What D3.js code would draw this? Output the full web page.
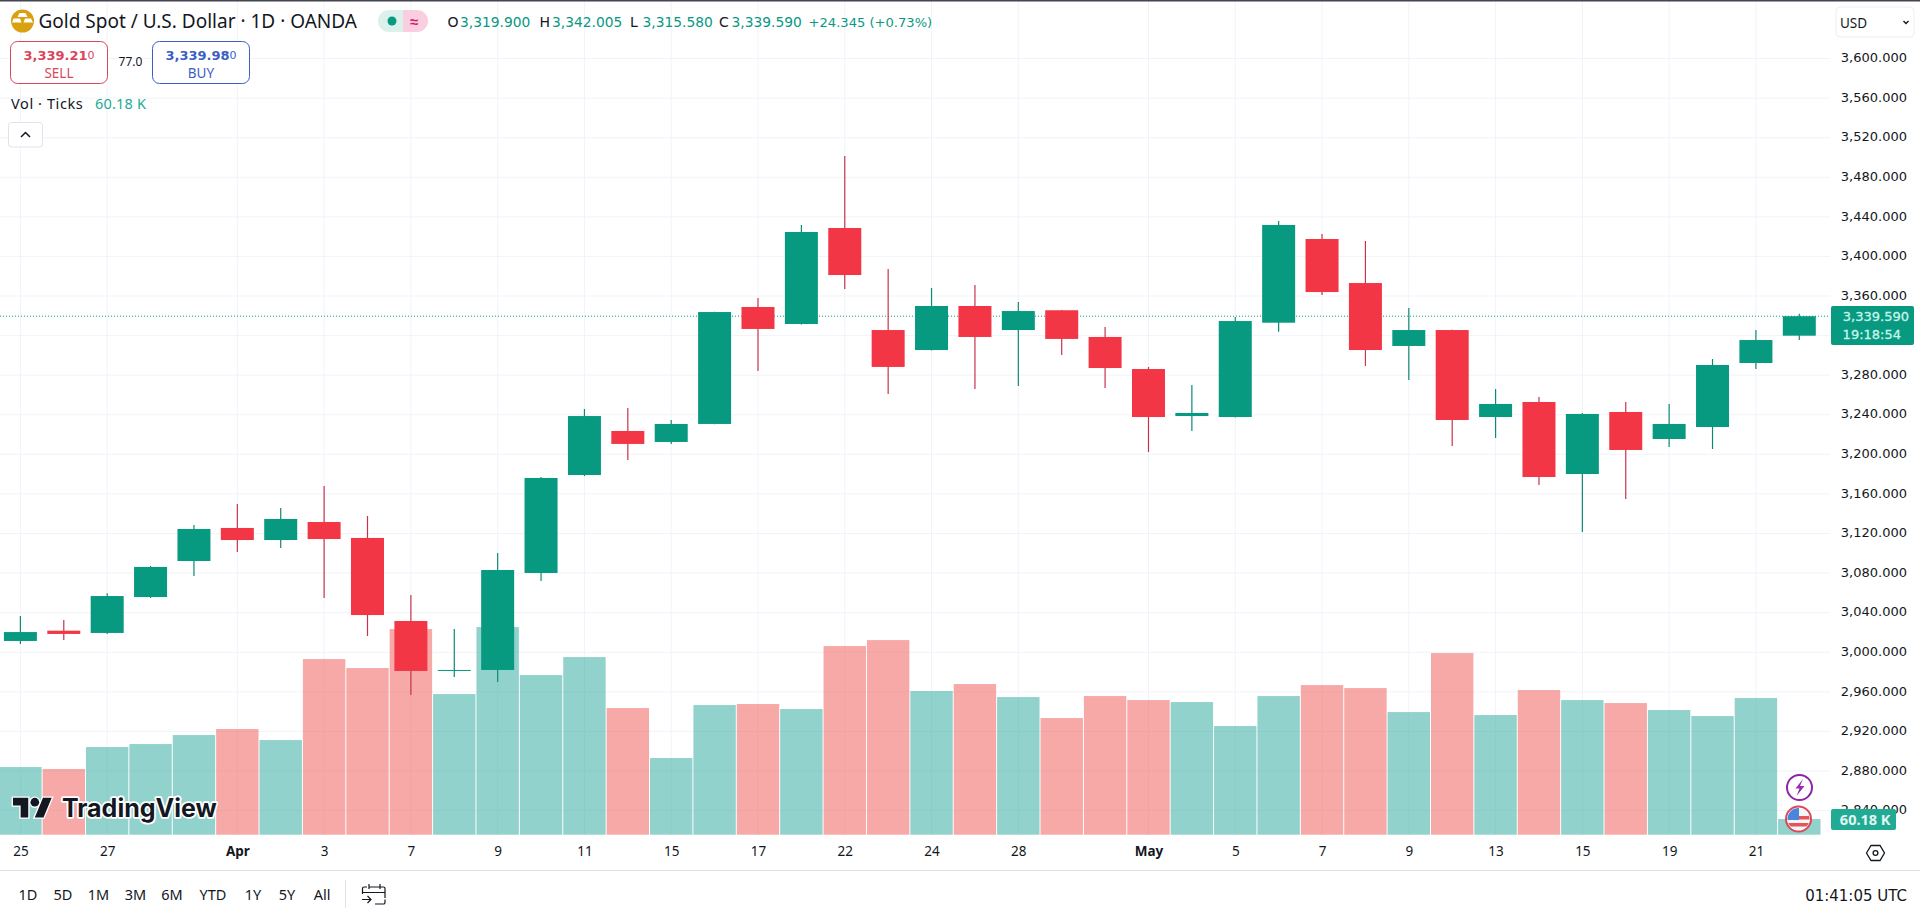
<!DOCTYPE html>
<html lang="en"><head>
<meta charset="utf-8">
<title>Gold Spot / U.S. Dollar</title>
<script src="https://cdn.jsdelivr.net/npm/d3@7"></script>
<style>
html, body { margin: 0; padding: 0; background: #fff; overflow: hidden; }
svg { display: block; }
text { font-family: "Noto Sans", sans-serif; fill: #131722; }
.num { font-family: "DejaVu Sans", sans-serif; }
</style>
</head>
<body>
<script type="text/javascript">

var width = 1920;
var height = 910;

// daily candles, Mar 25 to May 22
var opens = [3011.4,3021.8,3019.5,3055.8,3092.2,3125.6,3113.4,3131.6,3115.5,3031.6,2981.1,2982.1,3080.1,3179.1,3223.6,3212.5,3230.7,3348.9,3331.7,3428.7,3325.6,3305.4,3349.9,3325.6,3345.6,3318.6,3286.2,3238.7,3237.7,3333,3417.6,3373.1,3309.5,3325.6,3237.7,3252.9,3180.1,3242.8,3215.5,3227.6,3292.3,3319.9];
var highs = [3036.6,3032.6,3059.6,3087.2,3128.6,3149.8,3145.8,3168,3137.7,3057.9,3023.5,3100.3,3177.1,3245.8,3246.8,3234.7,3344.2,3358,3431.8,3501.5,3387.3,3368.1,3371.1,3354,3345.9,3328.7,3288.3,3270.1,3338.8,3435.8,3422.7,3415.6,3347.9,3325.9,3266,3258,3241.8,3252.9,3250.9,3296.3,3325.6,3342.005];
var lows = [3008.4,3012.4,3018.5,3054.8,3077.1,3101.3,3105.4,3054.8,3016.4,2956.8,2975,2970,3072,3178,3194.3,3210.5,3230.5,3284.2,3331.2,3367.1,3261,3305,3266,3269.1,3300.4,3267,3202.3,3223.6,3237.2,3324,3361,3289.3,3275.1,3208.4,3216.5,3169,3121.5,3154.9,3207.4,3205.4,3286.2,3315.58];
var closes = [3020.4,3018.5,3056.8,3086.2,3124.6,3113.4,3134.7,3114.4,3037.6,2981.1,2982.1,3083.1,3176.1,3238.7,3210.5,3230.7,3343.8,3326.7,3424.7,3381.2,3288.3,3349.9,3318.6,3344.8,3316.6,3287.2,3237.7,3241.8,3334.7,3431.8,3364,3305.4,3325.6,3234.7,3250.9,3177.1,3240.8,3204.4,3230.7,3290.3,3315.5,3339.59];
// ticks volume, thousands
var volumes = [259.8,252.2,336.6,348.2,382.7,405.8,363.5,674.6,640,789.8,540.2,797.4,613.1,682.2,486.4,294.4,497.9,501.8,482.6,724.5,747.5,551.7,578.6,528.6,448,532.5,517.1,509.4,417.3,532.5,574.7,563.2,471,697.6,459.5,555.5,517.1,505.6,478.7,455.7,524.8,60.18];

var priceTicks = [3600,3560,3520,3480,3440,3400,3360,3320,3280,3240,3200,3160,3120,3080,3040,3000,2960,2920,2880,2840];
var dateTickIndex = [0,2,5,7,9,11,13,15,17,19,21,23,26,28,30,32,34,36,38,40];
var dateTickLabels = ["25","27","Apr","3","7","9","11","15","17","22","24","28","May","5","7","9","13","15","19","21"];
var ranges = ["1D","5D","1M","3M","6M","YTD","1Y","5Y","All"];
var rangeX = [28,63,98.5,135.5,172,213,253,287,322];
var ohlcNames = ["O","H","L","C"];
var ohlcValues = ["3,319.900","3,342.005","3,315.580","3,339.590"];
var ohlcX = [447.5,539.5,630,719];

var lastClose = 3339.59;

var UP = "#089981", DOWN = "#f23645";

var svg = d3.select("body").append("svg")
            .attr("width", width)
            .attr("height", height);

var x = d3.scaleLinear().domain([0, 41]).range([20.4, 1799.3]);
var y = d3.scaleLinear().domain([3600, 2880]).range([58.5, 771]);
var vol = d3.scaleLinear().domain([0, 800]).range([834.7, 626.4]);

var paneRight = 1830, paneBottom = 835;

function label(parent, txt, px, py, size, color, anchor, weight, cls){
    return parent.append("text")
        .attr("class", cls || null)
        .attr("x", px).attr("y", py)
        .attr("font-size", size)
        .attr("text-anchor", anchor || "start")
        .attr("font-weight", weight || null)
        .style("fill", color || "#131722")
        .text(txt);
}

// grid
svg.append("g").selectAll("line").data(priceTicks).enter().append("line")
    .attr("x1", 0).attr("x2", paneRight)
    .attr("y1", function(d){ return y(d); }).attr("y2", function(d){ return y(d); })
    .attr("stroke", "#f0f3fa").attr("stroke-width", 1);
svg.append("g").selectAll("line").data(dateTickIndex).enter().append("line")
    .attr("y1", 0).attr("y2", paneBottom)
    .attr("x1", function(d){ return x(d); }).attr("x2", function(d){ return x(d); })
    .attr("stroke", "#f0f3fa").attr("stroke-width", 1);

// volume
svg.append("g").selectAll("rect").data(volumes).enter().append("rect")
    .attr("x", function(d, i){ return x(i) - 21.2; })
    .attr("width", 42.4)
    .attr("y", function(d){ return vol(d); })
    .attr("height", function(d){ return vol(0) - vol(d); })
    .attr("fill", function(d, i){ return closes[i] >= opens[i] ? "#26a69a" : "#ef5350"; })
    .attr("fill-opacity", 0.5);

// last price line
svg.append("line")
    .attr("x1", 0).attr("x2", paneRight)
    .attr("y1", y(lastClose)).attr("y2", y(lastClose))
    .attr("stroke", UP).attr("stroke-width", 1).attr("stroke-dasharray", "1 2");

// candles
var candle = svg.append("g").selectAll("g").data(closes).enter().append("g");
candle.append("line")
    .attr("x1", function(d, i){ return x(i); }).attr("x2", function(d, i){ return x(i); })
    .attr("y1", function(d, i){ return y(highs[i]); })
    .attr("y2", function(d, i){ return y(lows[i]); })
    .attr("stroke", function(d, i){ return closes[i] >= opens[i] ? "#0b8a76" : "#c9334a"; })
    .attr("stroke-width", 1.2);
candle.append("rect")
    .attr("x", function(d, i){ return x(i) - 16.5; })
    .attr("width", 33)
    .attr("y", function(d, i){ return y(Math.max(opens[i], closes[i])); })
    .attr("height", function(d, i){ return Math.max(1, Math.abs(y(opens[i]) - y(closes[i]))); })
    .attr("fill", function(d, i){ return closes[i] >= opens[i] ? UP : DOWN; });

// axes, the 3,320 label sits under the price tag
var yAxis = d3.axisRight(y)
    .tickValues(priceTicks.filter(function(d){ return d != 3320; }))
    .tickSize(0).tickFormat(d3.format(",.3f"));
var yG = svg.append("g").attr("transform", "translate(" + paneRight + ",-1)").call(yAxis);
yG.select(".domain").remove();
yG.selectAll("text").attr("x", 77).attr("text-anchor", "end")
    .attr("class", "num").attr("font-size", 13).style("fill", "#131722");

var xAxis = d3.axisBottom(x).tickValues(dateTickIndex).tickSize(0)
    .tickFormat(function(d){ return dateTickLabels[dateTickIndex.indexOf(d)]; });
var xG = svg.append("g").attr("transform", "translate(0," + paneBottom + ")").call(xAxis);
xG.select(".domain").remove();
xG.selectAll("text").attr("y", 11).attr("font-size", 13.5)
    .attr("font-weight", function(d){ return (d == 5 || d == 26) ? 700 : 400; })
    .style("fill", "#131722");

// price tag
svg.append("rect").attr("x", 1831).attr("y", 306).attr("width", 83).attr("height", 39).attr("rx", 2).attr("fill", UP);
label(svg, "3,339.590", 1909, 321, 13, "#c5f5ea", "end", 400, "num").attr("stroke", "#c5f5ea").attr("stroke-width", 0.3);
label(svg, "19:18:54", 1901, 339, 13, "#c5f5ea", "end", 400, "num").attr("stroke", "#c5f5ea").attr("stroke-width", 0.3);

// volume tag
svg.append("rect").attr("x", 1831).attr("y", 809).attr("width", 65).attr("height", 21).attr("rx", 2).attr("fill", "#22ab94");
label(svg, "60.18 K", 1890.5, 824.5, 14.5, "#e3f7f2", "end", 700);

// header
svg.append("rect").attr("width", width).attr("height", 1.5).attr("fill", "#434651");
svg.append("circle").attr("cx", 22.5).attr("cy", 21).attr("r", 11.5).attr("fill", "#d9a10f");
svg.append("path").attr("d", "M19.5 13h6l2 4h-10zM13.5 18.5h6.5l1.5 4H12zM25 18.5h6l2 4h-9.5z").attr("fill", "#fff");
label(svg, "Gold Spot / U.S. Dollar · 1D · OANDA", 38.5, 28, 19);

svg.append("path").attr("d", "M403 10h-14a11 11 0 0 0 0 22h14z").attr("fill", "#dcf1ec");
svg.append("path").attr("d", "M403 10h14a11 11 0 0 1 0 22h-14z").attr("fill", "#f9cfe0");
svg.append("circle").attr("cx", 392).attr("cy", 21).attr("r", 4.5).attr("fill", UP);
label(svg, "≈", 414, 26.5, 15, "#d81b70", "middle", 700);

ohlcNames.forEach(function(n, i){
    label(svg, n, ohlcX[i], 27, 14, "#131722", "start", 400, "num");
    label(svg, ohlcValues[i], ohlcX[i] + 12.5, 27, 13.8, UP, "start", 400, "num");
});
label(svg, "+24.345 (+0.73%)", 808.5, 27, 13.1, UP, "start", 400, "num");

// sell and buy
function tradeBox(bx, color, whole, last, name){
    svg.append("rect").attr("x", bx).attr("y", 41.5).attr("width", 97).attr("height", 42).attr("rx", 7)
        .attr("fill", "#fff").attr("stroke", color).attr("stroke-width", 1);
    var t = label(svg, whole, bx + 48.5, 60, 13, color, "middle", 700, "num");
    t.append("tspan").attr("font-size", 11).attr("font-weight", 400).attr("dy", -1).text(last);
    label(svg, name, bx + 48.5, 77.5, 13.5, color, "middle");
}
tradeBox(10.5, "#d9475a", "3,339.21", "0", "SELL");
tradeBox(152.5, "#3b5fc4", "3,339.98", "0", "BUY");
label(svg, "77.0", 130.5, 65.5, 12, "#131722", "middle");

label(svg, "Vol · Ticks", 11, 109, 14.5).style("letter-spacing", "0.6px");
label(svg, "60.18 K", 95, 109, 14.5, "#22ab94").style("letter-spacing", "0.2px");

svg.append("rect").attr("x", 8.5).attr("y", 122.5).attr("width", 34).attr("height", 24.5).attr("rx", 3)
    .attr("fill", "#fff").attr("stroke", "#e0e3eb");
svg.append("path").attr("d", "M21 137l4.5-4.5L30 137").attr("fill", "none").attr("stroke", "#131722").attr("stroke-width", 1.5);

// currency
svg.append("rect").attr("x", 1836).attr("y", 7).attr("width", 78).attr("height", 30).attr("rx", 4)
    .attr("fill", "#fff").attr("stroke", "#eceef2");
label(svg, "USD", 1840, 27.5, 13.5);
svg.append("path").attr("d", "M1903.5 21l2.5 2.5 2.5-2.5").attr("fill", "none").attr("stroke", "#131722").attr("stroke-width", 1.4);

// watermark
var logo = svg.append("g").attr("transform", "translate(13,793.5) scale(1.09)");
logo.append("path").attr("d", "M14 22H7V11H0V4h14v18zM28 22h-8l7.5-18h8L28 22z").attr("fill", "#131722")
    .attr("stroke", "#fff").attr("stroke-width", 2.5).attr("paint-order", "stroke");
logo.append("circle").attr("cx", 20).attr("cy", 8).attr("r", 4).attr("fill", "#131722")
    .attr("stroke", "#fff").attr("stroke-width", 2.5).attr("paint-order", "stroke");
label(svg, "TradingView", 62, 817, 25, "#131722", "start", 700)
    .style("font-family", "Inter")
    .attr("stroke", "#fff").attr("stroke-width", 3.5).attr("paint-order", "stroke")
    .attr("stroke-linejoin", "round");

// event markers
svg.append("circle").attr("cx", 1799.5).attr("cy", 787.5).attr("r", 12.5).attr("fill", "#fff").attr("stroke", "#8e24aa").attr("stroke-width", 2);
svg.append("path").attr("d", "M1803 779l-7.5 9.5h4l-3 7.5 8-10h-4.5z").attr("fill", "#9c27b0");
var defs = svg.append("defs");
defs.append("clipPath").attr("id", "flag").append("circle").attr("cx", 1798.5).attr("cy", 819).attr("r", 11);
svg.append("circle").attr("cx", 1798.5).attr("cy", 819).attr("r", 12.5).attr("fill", "#fff").attr("stroke", "#d9475a").attr("stroke-width", 2);
var flag = svg.append("g").attr("clip-path", "url(#flag)");
flag.append("rect").attr("x", 1787).attr("y", 808).attr("width", 23).attr("height", 22).attr("fill", "#f5f5f5");
flag.append("rect").attr("x", 1798).attr("y", 816).attr("width", 12).attr("height", 3.5).attr("fill", "#e2555a");
flag.append("rect").attr("x", 1787).attr("y", 823).attr("width", 23).attr("height", 3.5).attr("fill", "#e2555a");
flag.append("rect").attr("x", 1787).attr("y", 808).attr("width", 12).attr("height", 12).attr("fill", "#4a86dd");

// settings
svg.append("path").attr("d", "M1866.5 853l4.5-7.5h9l4.5 7.5-4.5 7.5h-9z").attr("fill", "none").attr("stroke", "#131722").attr("stroke-width", 1.3);
svg.append("circle").attr("cx", 1875.5).attr("cy", 853).attr("r", 2.4).attr("fill", "none").attr("stroke", "#131722").attr("stroke-width", 1.3);

// bottom toolbar
svg.append("line").attr("x1", 0).attr("x2", width).attr("y1", 870.5).attr("y2", 870.5).attr("stroke", "#e0e3eb");
ranges.forEach(function(r, i){
    label(svg, r, rangeX[i], 900, 14.5, "#131722", "middle");
});
svg.append("line").attr("x1", 345.5).attr("x2", 345.5).attr("y1", 880).attr("y2", 908).attr("stroke", "#e0e3eb");
svg.append("path").attr("d", "M367 887h-3a1.5 1.5 0 0 0-1.5 1.5v5.5M363 892.5h22.5M385 898v-9.5a1.5 1.5 0 0 0-1.5-1.5h-14M375 904h8.5a1.5 1.5 0 0 0 1.5-1.5v-3M369 884v5M380 884v5M362 899.5h9M367.5 896l3.5 3.5-3.5 3.5")
    .attr("fill", "none").attr("stroke", "#131722").attr("stroke-width", 1.2);
label(svg, "01:41:05 UTC", 1907, 900.5, 15, "#131722", "end", 400, "num");

</script>
</body></html>
